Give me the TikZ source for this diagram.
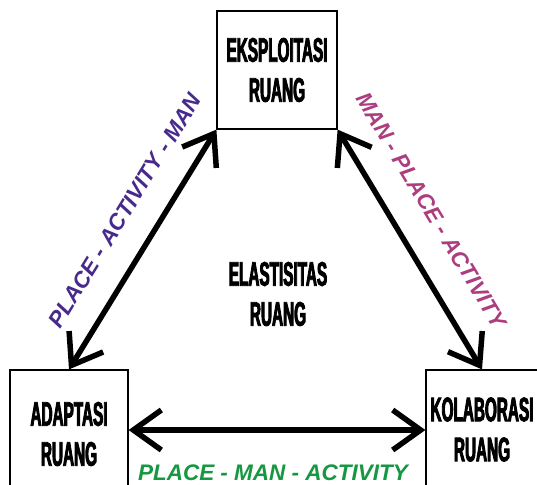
\documentclass[tikz,border=0pt]{standalone}
\usepackage{fontspec}
\setmainfont{Liberation Sans}
\newfontfamily\boxfont[FakeStretch=0.45,FakeBold=2.5]{Liberation Sans}
\usetikzlibrary{arrows.meta}
\definecolor{purp}{RGB}{72,42,140}
\definecolor{mag}{RGB}{172,62,128}
\definecolor{grn}{RGB}{22,152,66}
\newcommand\boxtext{\boxfont\bfseries\fontsize{34}{40}\selectfont}
\tikzset{
  boxnode/.style={draw, line width=1.2pt, inner sep=0pt, align=center, font=\boxtext},
  arr/.style={line width=5.5pt, {Straight Barb[length=28pt,width=40pt]}-{Straight Barb[length=28pt,width=40pt]}},
  lab/.style={font=\fontsize{22.5}{24}\selectfont\bfseries\itshape, inner sep=0pt}
}
\begin{document}
\begin{tikzpicture}[x=1pt,y=-1pt]
\useasboundingbox (0,0) rectangle (537,484);
\fill[white] (0,0) rectangle (537,484);
\clip (0,0) rectangle (537,484);
\node[boxnode, minimum width=120pt, minimum height=118pt] (top) at (277,70) {EKSPLOITASI\\RUANG};
\node[boxnode, minimum width=118pt, minimum height=128pt] (left) at (69,434) {ADAPTASI\\RUANG};
\node[boxnode, minimum width=112pt, minimum height=119pt] (right) at (482,429.5) {KOLABORASI\\RUANG};
\node[font=\boxtext, align=center, inner sep=0pt] (center) at (278,294) {ELASTISITAS\\RUANG};
\draw[arr] (left.north) -- node[lab, sloped, above=25pt, pos=0.585, text=purp] (lab1) {PLACE - ACTIVITY - MAN} (top.south west);
\draw[arr] (top.south east) -- node[lab, sloped, above=28pt, pos=0.42, text=mag] (lab2) {MAN - PLACE - ACTIVITY} (right.north);
\draw[arr] ([yshift=4pt]left.east) -- node[lab, below=32pt, xshift=-4pt, text=grn] (lab3) {PLACE - MAN - ACTIVITY} ([yshift=4pt]left.east -| right.west);
\end{tikzpicture}
\end{document}
